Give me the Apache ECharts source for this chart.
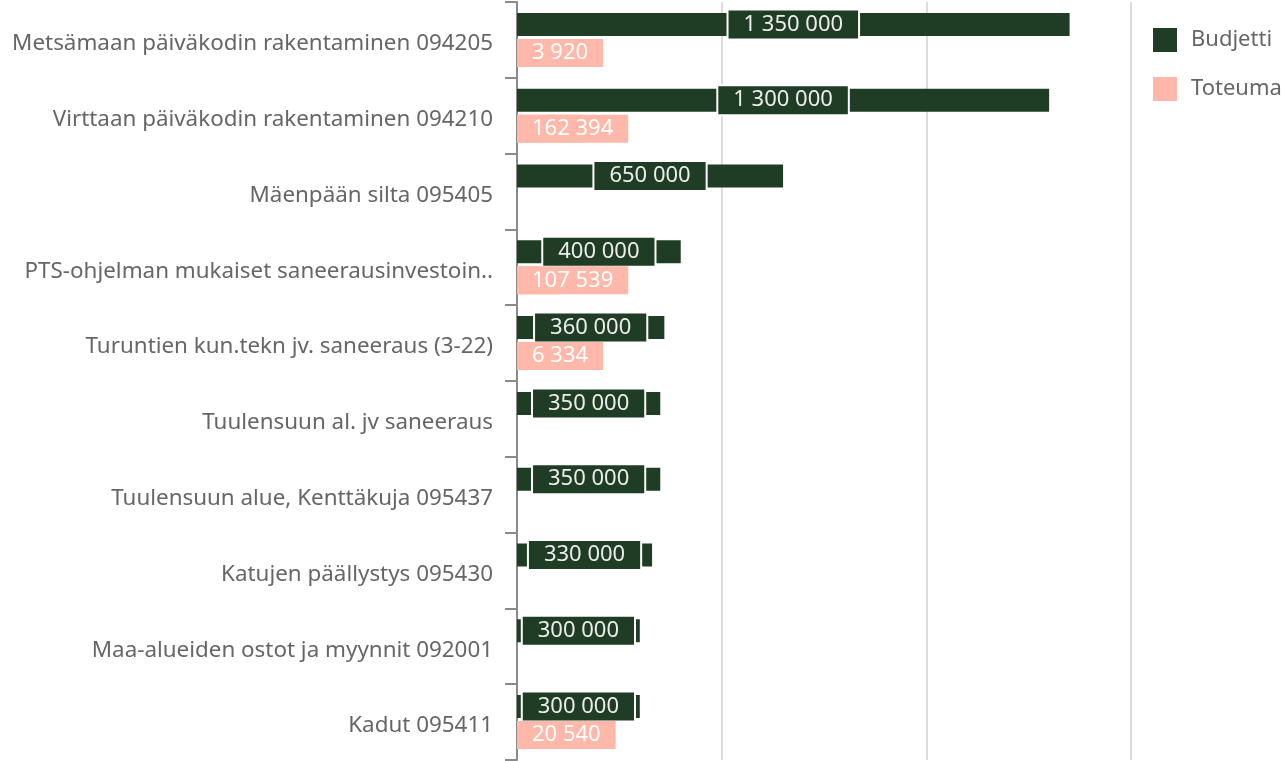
<!DOCTYPE html>
<html><head><meta charset="utf-8">
<script src="https://cdn.jsdelivr.net/npm/echarts@6/dist/echarts.min.js"></script>
<style>html,body{margin:0;padding:0;background:#fff}#c{width:1286px;height:761px}</style>
</head><body><div id="c"></div>
<script>
const categories = [
  "Metsämaan päiväkodin rakentaminen 094205",
  "Virttaan päiväkodin rakentaminen 094210",
  "Mäenpään silta 095405",
  "PTS-ohjelman mukaiset saneerausinvestoin..",
  "Turuntien kun.tekn jv. saneeraus (3-22)",
  "Tuulensuun al. jv saneeraus",
  "Tuulensuun alue, Kenttäkuja 095437",
  "Katujen päällystys 095430",
  "Maa-alueiden ostot ja myynnit 092001",
  "Kadut 095411"
];
const budjetti = [1350000, 1300000, 650000, 400000, 360000, 350000, 350000, 330000, 300000, 300000];
const toteuma = [3920, 162394, null, 107539, 6334, null, null, null, null, 20540];
const xTicks = [0, 500000, 1000000, 1500000];

const fmt = v => String(v).replace(/\B(?=(\d{3})+(?!\d))/g, ' ');
const FONT = '"Noto Sans", "Open Sans", sans-serif';
const chart = echarts.init(document.getElementById('c'));
chart.setOption({
  animation: false,
  textStyle: { fontFamily: FONT },
  legend: {
    orient: 'vertical', left: 1153, top: 28, padding: 0,
    itemWidth: 24, itemHeight: 24, itemGap: 25, icon: 'rect',
    textStyle: { fontSize: 22, color: '#666', fontFamily: FONT, padding: [0, 0, 0, 9] },
    data: ['Budjetti', 'Toteuma']
  },
  grid: { left: 517, right: 155, top: 2, bottom: 1, containLabel: false },
  xAxis: {
    type: 'value', min: xTicks[0], max: xTicks[xTicks.length - 1], interval: 500000,
    axisLabel: { show: false }, axisLine: { show: false }, axisTick: { show: false },
    splitLine: { show: true, lineStyle: { color: '#dcdcdc', width: 2 } }
  },
  yAxis: {
    type: 'category', data: categories, inverse: true,
    axisLine: { show: true, lineStyle: { color: '#8a8a8a', width: 2 } },
    axisTick: { show: true, length: 12, lineStyle: { color: '#8a8a8a', width: 2 } },
    axisLabel: {
      margin: 24, formatter: v => '{a|' + v + '}',
      rich: { a: { fontSize: 22.4, color: '#666', fontFamily: FONT, padding: [8, 0, 0, 0] } }
    }
  },
  series: [
    {
      name: 'Budjetti', type: 'bar', data: budjetti, barWidth: 23, barGap: '13%',
      itemStyle: { color: '#1f3d24' },
      label: {
        show: true, position: 'inside', formatter: p => fmt(p.value),
        fontSize: 22, color: '#ececec', fontFamily: FONT,
        backgroundColor: '#1f3d24', borderColor: '#ffffff', borderWidth: 2,
        padding: [3, 15, 3, 15], lineHeight: 22
      }
    },
    {
      name: 'Toteuma', type: 'bar', data: toteuma, barWidth: 28, barGap: '13%',
      itemStyle: { color: '#ffb8a9' },
      label: {
        show: true, position: 'insideLeft', distance: 0, formatter: p => fmt(p.value),
        fontSize: 22, color: '#ffffff', fontFamily: FONT,
        backgroundColor: '#ffb8a9',
        padding: [3, 15, 3, 15], lineHeight: 22
      }
    }
  ]
});
</script></body></html>
